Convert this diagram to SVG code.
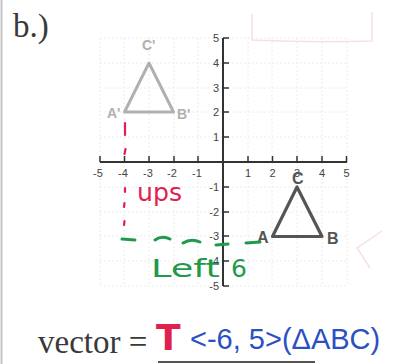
<svg xmlns="http://www.w3.org/2000/svg" width="394" height="364" viewBox="0 0 394 364">
<style>
.grid{stroke:#ececec;stroke-width:1;stroke-dasharray:2 2;fill:none}
.axis{stroke:#333;stroke-width:2;fill:none}
.tick{stroke:#333;stroke-width:1.5;fill:none}
.num{font-family:"Liberation Sans",Arial,sans-serif;font-size:11px;fill:#444}
.serif{font-family:"Liberation Serif","Times New Roman",serif;fill:#3a3a3a}
.tri1{fill:none;stroke:#b0b0b0;stroke-width:3;stroke-linejoin:round}
.tri2{fill:none;stroke:#555;stroke-width:3.2;stroke-linejoin:round}
.lab1{font-family:"Liberation Sans",Arial,sans-serif;font-size:14px;font-weight:bold;fill:#b0b0b0}
.lab2{font-family:"Liberation Sans",Arial,sans-serif;font-size:16px;font-weight:bold;fill:#555}
.hand{font-family:"DejaVu Sans","Liberation Sans",sans-serif}
.red{fill:#e0214f}
.green{fill:#1f9a4b}
.blue{fill:#2b50c2}
.faint{fill:none;stroke:#f7dfe2;stroke-width:1.5}
</style>
<rect x="0" y="0" width="394" height="364" fill="#ffffff"/>
<line x1="1.5" y1="0" x2="1.5" y2="364" stroke="#c4c4c4" stroke-width="2"/>
<!-- faint background marks -->
<path class="faint" d="M252 14 L252 40 Q310 43 372 41 L372 12"/>
<path class="faint" d="M382 231 L357 248 L370 268"/>
<!-- grid -->
<g id="grid">
<path class="grid" d="M100 38H347M100 63H347M100 88H347M100 112H347M100 137H347M100 187H347M100 212H347M100 236H347M100 261H347M100 286H347"/>
<path class="grid" d="M100 38V286M124 38V286M149 38V286M174 38V286M198 38V286M248 38V286M272 38V286M297 38V286M322 38V286M347 38V286"/>
</g>
<!-- axes -->
<g id="axes">
<line class="axis" x1="100" y1="162" x2="347" y2="162"/>
<line class="axis" x1="223" y1="38" x2="223" y2="286"/>
<path class="tick" d="M100 162V156M124.5 162V156M149 162V156M174 162V156M198 162V156M248 162V156M272.5 162V156M297 162V156M322 162V156M346.5 162V156"/>
<path class="tick" d="M223 38H229M223 63H229M223 88H229M223 112H229M223 137H229M223 187H229M223 212H229M223 236H229M223 261H229M223 286H229"/>
<g class="num" text-anchor="middle">
<text x="98" y="177">-5</text>
<text x="123" y="177">-4</text>
<text x="148" y="177">-3</text>
<text x="172" y="177">-2</text>
<text x="197" y="177">-1</text>
<text x="248" y="177">1</text>
<text x="272.5" y="177">2</text>
<text x="297" y="177">3</text>
<text x="322" y="177">4</text>
<text x="346.5" y="177">5</text>
</g>
<g class="num" text-anchor="end">
<text x="219" y="42">5</text>
<text x="219" y="67">4</text>
<text x="219" y="92">3</text>
<text x="219" y="116">2</text>
<text x="219" y="141">1</text>
<text x="219" y="191">-1</text>
<text x="219" y="216">-2</text>
<text x="219" y="240">-3</text>
<text x="219" y="265">-4</text>
<text x="219" y="290">-5</text>
</g>
</g>
<text class="serif" x="13" y="37" font-size="33">b.)</text>
<!-- image triangle -->
<g id="triangle-image">
<polygon class="tri1" points="124.5,112 173.5,112 149,63"/>
<text class="lab1" x="107" y="118">A'</text>
<text class="lab1" x="177" y="119">B'</text>
<text class="lab1" x="142" y="50">C'</text>
</g>
<!-- preimage triangle -->
<g id="triangle-pre">
<polygon class="tri2" points="272.5,236.5 322,236.5 297,187"/>
<text class="lab2" x="257" y="243">A</text>
<text class="lab2" x="327" y="244">B</text>
<text class="lab2" x="292" y="184">C</text>
</g>
<!-- handwritten connectors -->
<g id="connectors" fill="none" stroke-linecap="round">
<g stroke="#e0214f" stroke-width="2.2">
<path d="M125 123V135"/>
<path d="M125.5 149L124.5 154"/>
<path d="M125 188V192"/>
<path d="M124.5 203L124 207"/>
<path d="M124.5 221L124 225"/>
</g>
<g stroke="#1f9a4b" stroke-width="3">
<path d="M122 239L135 240"/>
<path d="M155 240Q162 235 170 239"/>
<path d="M183 243Q191 238 200 242"/>
<path d="M216 245L228 244"/>
<path d="M246 243L260 242"/>
</g>
</g>
<g id="annotations">
<text class="hand red" x="137" y="201" font-size="24" textLength="45" lengthAdjust="spacingAndGlyphs">ups</text>
<text class="hand green" x="151" y="277" font-size="25" textLength="69" lengthAdjust="spacingAndGlyphs">Left</text>
<text class="hand green" x="231" y="277" font-size="25">6</text>
</g>
<!-- vector -->
<g id="vector">
<text class="serif" x="38" y="353" font-size="33">vector =</text>
<line x1="158" y1="362" x2="315" y2="362" stroke="#555" stroke-width="2"/>
<text class="hand red" x="156" y="350" font-size="36" font-weight="bold">T</text>
<text x="190" y="349" font-family="Liberation Sans, Arial, sans-serif" font-size="29" fill="#2b50c2">&lt;-6, 5&gt;(ΔABC)</text>
</g>
</svg>
